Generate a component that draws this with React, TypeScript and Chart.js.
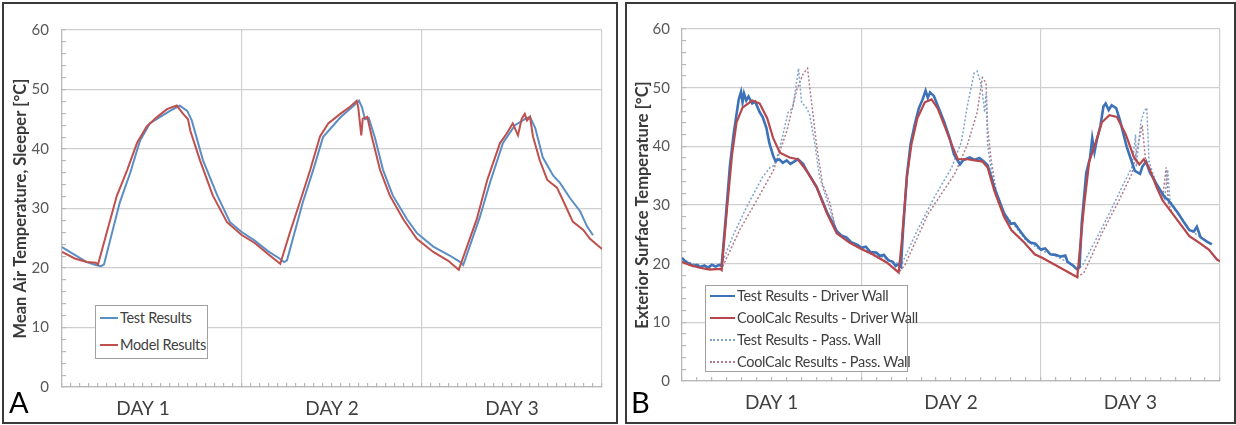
import React, { useEffect, useRef } from "react";
import { Chart, registerables } from "chart.js";

Chart.register(...registerables);

const FONT = "Lato, 'Open Sans', sans-serif";

// ---------- Panel A : hours since start, temperature [°C] ----------
const testResultsA: [number, number][] = [
  [0, 23.5], [1.7, 22.2], [3.3, 21.0], [4.5, 20.5], [5.2, 20.3], [5.6, 20.6], [7.7, 31.0], [9.1, 36.0],
  [10.4, 41.4], [11.7, 44.3], [13.1, 45.4], [14.4, 46.4], [15.7, 47.3], [16.7, 46.4], [17.3, 44.8],
  [18.8, 38.1], [20.7, 32.2], [22.4, 27.7], [24, 26.0], [25.7, 24.6], [27.5, 22.8], [29.0, 21.6],
  [29.6, 21.0], [30.0, 21.3], [32.1, 31.0], [33.5, 36.5], [34.8, 42.0], [37.1, 45.3], [39.1, 47.5],
  [39.6, 48.1], [40.0, 47.0], [40.4, 45.0], [40.9, 45.2], [41.7, 42.0], [42.8, 36.5], [44.1, 32.2],
  [46.0, 28.2], [47.3, 25.9], [49.5, 23.6], [51.7, 22.1], [53.1, 21.0], [53.5, 20.5], [55.7, 28.5],
  [57.1, 34.5], [58.8, 41.0], [60.4, 44.0], [61.7, 45.0], [62.4, 45.4], [63.1, 43.5], [64.1, 38.6],
  [65.5, 35.5], [66.4, 34.3], [67.7, 31.8], [69.1, 29.5], [70.0, 27.0], [70.8, 25.5],
];
const modelResultsA: [number, number][] = [
  [0, 22.7], [1.7, 21.6], [3.3, 21.0], [4.5, 20.9], [4.8, 20.6], [7.3, 32.1], [8.7, 36.5], [10.0, 41.0],
  [11.3, 43.8], [12.7, 45.4], [14.0, 46.7], [15.3, 47.3], [16.1, 46.0], [16.8, 45.0], [17.1, 43.1],
  [18.4, 38.1], [20.1, 32.2], [22.0, 27.7], [24.0, 25.5], [25.7, 24.2], [27.5, 22.3], [29.1, 20.7],
  [30.4, 26.0], [31.7, 31.0], [33.1, 36.5], [34.4, 42.1], [35.5, 44.3], [37.1, 45.9], [38.4, 47.1],
  [39.3, 48.1], [39.5, 47.0], [39.9, 42.3], [40.1, 45.1], [40.7, 45.4], [41.3, 42.1], [42.4, 36.5],
  [43.7, 32.2], [45.5, 28.2], [47.3, 24.9], [49.5, 22.7], [51.5, 21.2], [52.9, 19.7], [55.3, 28.2],
  [56.7, 34.8], [58.4, 41.0], [59.3, 42.6], [60.1, 44.3], [60.8, 42.3], [61.3, 45.1], [61.7, 45.9],
  [62.0, 44.8], [62.4, 45.4], [62.8, 42.1], [63.7, 38.1], [64.7, 34.8], [66.0, 33.5], [67.3, 30.0],
  [68.1, 27.8], [69.5, 26.4], [70.4, 24.9], [72, 23.2],
];

// ---------- Panel B ----------
const testDriverB: [number, number][] = [
  [0, 21.0], [0.5, 20.3], [1, 20.0], [1.5, 19.6], [2, 19.8], [2.5, 19.4], [3, 19.7], [3.5, 19.3], [4, 19.8],
  [4.5, 19.5], [5, 19.8], [5.3, 19.6], [5.8, 27.0], [6.4, 36.5], [6.9, 42.0], [7.3, 45.5], [7.6, 48.0],
  [7.9, 49.3], [8.1, 47.5], [8.3, 49.0], [8.6, 47.8], [8.9, 48.5], [9.4, 47.3], [9.8, 47.6], [10.4, 45.8],
  [10.8, 45.0], [11.3, 43.1], [11.7, 40.5], [12.2, 38.4], [12.5, 37.5], [13, 37.8], [13.5, 37.2], [14, 37.6],
  [14.5, 37.0], [15, 37.4], [15.5, 37.8], [16.2, 37.0], [16.7, 35.8], [18, 33.1], [19.4, 28.8], [20.7, 25.6],
  [21.3, 24.8], [22, 24.5], [22.7, 23.6], [23.5, 23.2], [24, 22.7], [24.6, 22.9], [25.2, 22.0], [26, 21.9],
  [26.5, 21.3], [27, 21.5], [27.6, 20.6], [28.2, 20.3], [28.6, 19.6], [29, 19.9], [29.3, 19.5], [29.6, 26.0],
  [30.1, 35.0], [30.6, 40.5], [31.2, 44.0], [31.7, 46.5], [32.2, 48.0], [32.6, 49.5], [32.9, 48.3],
  [33.2, 49.2], [33.7, 48.6], [34.2, 47.0], [35.1, 44.1], [35.8, 41.5], [36.4, 38.6], [37.2, 36.9],
  [37.6, 37.6], [38.5, 38.1], [39.2, 37.7], [39.8, 38.0], [40.4, 37.4], [40.9, 36.8], [41.8, 33.0],
  [43.1, 28.6], [44, 26.8], [44.5, 26.9], [45, 26.0], [46, 24.3], [46.6, 23.6], [47.3, 23.4], [48, 22.4],
  [48.6, 22.6], [49.3, 21.6], [50, 21.5], [50.7, 21.2], [51.3, 21.4], [51.6, 20.3], [52.2, 19.8],
  [52.9, 19.0], [53.2, 19.4], [53.5, 27.0], [54.1, 35.5], [54.6, 38.0], [54.9, 41.4], [55.2, 39.0],
  [55.5, 41.0], [56, 43.5], [56.4, 46.8], [56.7, 47.3], [57.1, 46.2], [57.5, 47.0], [58.1, 46.5],
  [58.6, 44.5], [59, 42.5], [59.5, 40.0], [60, 38.1], [60.6, 35.8], [61.3, 35.3], [61.6, 36.5],
  [62.1, 37.4], [62.6, 35.6], [63.5, 33.6], [64.5, 31.5], [65.1, 30.8], [66.4, 28.6], [67.2, 27.0],
  [67.9, 25.7], [68.5, 25.5], [68.9, 26.3], [69.4, 24.5], [70.2, 23.8], [70.9, 23.3],
];
const coolCalcDriverB: [number, number][] = [
  [0, 20.3], [1, 19.8], [2.4, 19.3], [3.7, 19.0], [5.1, 19.1], [5.3, 18.9], [6.0, 29.1], [6.7, 38.6],
  [7.3, 44.1], [8.1, 46.6], [9.4, 47.8], [10.4, 47.3], [11.4, 44.8], [12.2, 41.4], [13.1, 38.9],
  [14.4, 38.1], [15.5, 37.8], [16.7, 35.8], [18.0, 33.1], [19.4, 28.6], [20.7, 25.2], [22.4, 23.6],
  [24.0, 22.5], [25.5, 21.6], [27.4, 20.2], [29.0, 18.5], [29.4, 23.6], [30.1, 34.8], [30.7, 40.3],
  [31.5, 44.8], [32.5, 47.5], [33.4, 48.0], [34.2, 46.5], [35.1, 43.6], [36.1, 40.3], [36.9, 37.8],
  [38.2, 37.8], [40.2, 37.4], [40.9, 36.4], [41.8, 32.4], [43.1, 28.0], [44.1, 25.7], [45.8, 23.6],
  [47.2, 21.6], [48.2, 21.0], [50.5, 19.4], [52.9, 17.7], [53.8, 29.8], [54.5, 37.4], [55.4, 40.8],
  [56.2, 44.1], [57.2, 45.3], [58.2, 45.0], [59.4, 42.0], [60.5, 38.1], [61.2, 36.9], [61.8, 37.8],
  [62.5, 36.4], [63.5, 33.1], [64.3, 30.8], [65.6, 28.6], [66.9, 26.4], [67.9, 24.7], [69.2, 23.6],
  [70.5, 22.4], [71.6, 20.7], [72, 20.4],
];
const testPassB: [number, number][] = [
  [0, 20.8], [1, 20.2], [2, 19.8], [3, 19.6], [4, 19.7], [5.3, 19.9], [6.8, 24.7], [8.7, 29.8], [10.8, 34.8],
  [11.8, 36.4], [12.4, 36.8], [13.1, 39.8], [14.2, 45.8], [14.8, 46.5], [15.4, 51.5], [15.6, 53.3],
  [16.0, 47.5], [16.7, 46.5], [17.1, 45.3], [17.8, 40.3], [18.4, 34.8], [19.4, 30.8], [20.7, 25.6],
  [22.4, 23.8], [24, 22.6], [26, 21.6], [28, 20.4], [29.4, 19.8], [29.5, 20.2], [31.5, 25.7], [33.8, 31.4],
  [36.1, 36.4], [37.4, 40.8], [38.2, 47.0], [39.1, 52.5], [39.5, 52.8], [40.1, 50.3], [40.5, 45.8],
  [40.7, 49.0], [40.9, 40.3], [41.4, 35.8], [42, 32.0], [43.1, 28.5], [44.5, 26.5], [46, 24.0], [48, 22.3],
  [50, 21.3], [52, 20.0], [53.1, 19.2], [53.6, 19.7], [55.4, 24.1], [57.2, 28.6], [58.9, 33.1],
  [60.2, 36.4], [60.7, 42.0], [60.8, 36.5], [61.4, 44.1], [61.8, 45.8], [62.2, 46.6], [62.5, 37.4],
  [63.5, 33.6], [64.6, 31.0], [65.0, 36.0], [65.3, 30.8], [66.4, 28.6], [68, 25.7], [69.4, 24.5], [70.9, 23.3],
];
const coolCalcPassB: [number, number][] = [
  [0, 20.3], [2.4, 19.3], [5.3, 19.0], [5.7, 20.2], [7.7, 25.7], [10.0, 30.8], [12.2, 35.8], [14.0, 42.5],
  [15.4, 49.8], [16.2, 52.3], [16.8, 53.3], [17.5, 45.8], [18.0, 40.3], [18.8, 33.6], [19.8, 30.3],
  [20.7, 25.2], [22.4, 23.6], [24, 22.5], [27.4, 20.2], [29.0, 18.5], [29.8, 19.7], [32.9, 28.4],
  [36.5, 35.3], [38.2, 40.3], [39.5, 45.8], [40.2, 51.7], [40.7, 50.8], [40.9, 43.1], [41.4, 37.4],
  [42.1, 31.9], [43.1, 28.0], [44.1, 25.7], [45.8, 23.6], [47.2, 21.6], [50.5, 19.4], [52.9, 17.7],
  [53.8, 18.5], [56.2, 25.2], [58.5, 30.8], [60.2, 35.3], [61.6, 43.6], [62.0, 38.0], [62.5, 36.4],
  [63.5, 33.1], [64.3, 31.0], [64.8, 36.4], [65.1, 30.3], [65.6, 28.6], [66.9, 26.4], [67.9, 24.7],
  [69.2, 23.6], [70.5, 22.4], [71.6, 20.7], [72, 20.4],
];

// ---------- Axis definitions ----------
const dayLabels = ["DAY 1", "DAY 2", "DAY 3"];
const dayLabelHoursA = [10.8, 36, 60];
const dayLabelHoursB = [12, 36, 60];
const X_MAX = 72;
const HOURS_PER_DAY = 24;
const Y_MIN = 0;
const Y_MAX = 60;
const Y_MAJOR = 10;
const Y_MINOR = 2;

const GRID = "#cfcfcf";
const AXIS = "#b8b8b8";

type Series = {
  label: string;
  points: [number, number][];
  color: string;
  width: number;
  dash?: number[];
  order: number;
};

type PanelCfg = {
  series: Series[];
  yTitle: string;
  dayHours: number[];
  minorStepX: number;
  padTop: number;
  padRight: number;
  yAxisWidth: number;
  xAxisHeight: number;
  yTickPad: number;
  xTickPad: number;
  titlePad: number;
};

const near = (a: number, b: number) => Math.abs(a - b) < 1e-6;

function makeChart(canvas: HTMLCanvasElement, cfg: PanelCfg) {
  const minorX: number[] = [];
  for (let k = 0; k * cfg.minorStepX <= X_MAX + 1e-9; k++) minorX.push(+(k * cfg.minorStepX).toFixed(3));
  const xTicks = [...minorX];
  cfg.dayHours.forEach((h) => {
    if (!xTicks.some((v) => near(v, h))) xTicks.push(h);
  });
  xTicks.sort((a, b) => a - b);
  const yTicks: number[] = [];
  for (let v = Y_MIN; v <= Y_MAX; v += Y_MINOR) yTicks.push(v);

  return new Chart(canvas, {
    type: "line",
    data: {
      datasets: cfg.series.map((s) => ({
        label: s.label,
        data: s.points.map(([x, y]) => ({ x, y })),
        borderColor: s.color,
        backgroundColor: s.color,
        borderWidth: s.width,
        borderDash: s.dash || [],
        pointRadius: 0,
        tension: 0,
        fill: false,
        order: s.order,
      })),
    },
    options: {
      responsive: false,
      animation: false,
      events: [],
      layout: { padding: { top: cfg.padTop, right: cfg.padRight, left: 0, bottom: 0 } },
      plugins: { legend: { display: false }, tooltip: { enabled: false } },
      scales: {
        x: {
          type: "linear",
          min: 0,
          max: X_MAX,
          afterBuildTicks: (s: any) => {
            s.ticks = xTicks.map((v) => ({ value: v }));
          },
          afterFit: (s: any) => {
            s.height = cfg.xAxisHeight;
          },
          ticks: {
            autoSkip: false,
            maxRotation: 0,
            minRotation: 0,
            padding: cfg.xTickPad,
            color: "#404040",
            font: { family: FONT, size: 19 },
            callback: (v: any) => {
              const i = cfg.dayHours.findIndex((h) => near(h, Number(v)));
              return i >= 0 ? dayLabels[i] : "";
            },
          },
          grid: {
            color: (c: any) => (c.tick && near(c.tick.value % HOURS_PER_DAY, 0) ? GRID : "rgba(0,0,0,0)"),
            tickColor: (c: any) =>
              c.tick && minorX.some((v) => near(v, c.tick.value)) ? AXIS : "rgba(0,0,0,0)",
            tickLength: -4,
            lineWidth: 1.2,
          },
          border: { color: AXIS, width: 1.2 },
        },
        y: {
          type: "linear",
          min: Y_MIN,
          max: Y_MAX,
          afterBuildTicks: (s: any) => {
            s.ticks = yTicks.map((v) => ({ value: v }));
          },
          afterFit: (s: any) => {
            s.width = cfg.yAxisWidth;
          },
          ticks: {
            autoSkip: false,
            padding: cfg.yTickPad,
            color: "#595959",
            font: { family: FONT, size: 15 },
            callback: (v: any) => (Number(v) % Y_MAJOR === 0 ? String(v) : ""),
          },
          grid: {
            color: (c: any) => (c.tick && c.tick.value % Y_MAJOR === 0 ? GRID : "rgba(0,0,0,0)"),
            tickColor: AXIS,
            tickLength: -4,
            lineWidth: 1.2,
          },
          border: { color: AXIS, width: 1.2 },
          title: {
            display: true,
            text: cfg.yTitle,
            color: "#3a3a3a",
            font: { family: FONT, size: 16.5, weight: "bold" },
            padding: { top: cfg.titlePad, bottom: 0 },
          },
        },
      },
    } as any,
  });
}

const seriesA: Series[] = [
  { label: "Test Results", points: testResultsA, color: "#5b8ec4", width: 2, order: 2 },
  { label: "Model Results", points: modelResultsA, color: "#c0504d", width: 2, order: 1 },
];
const seriesB: Series[] = [
  { label: "Test Results - Driver Wall", points: testDriverB, color: "#3d72b8", width: 2.6, order: 2 },
  { label: "CoolCalc Results - Driver Wall", points: coolCalcDriverB, color: "#b8474b", width: 2.2, order: 1 },
  { label: "Test Results - Pass. Wall", points: testPassB, color: "#7fa3cc", width: 1.5, dash: [2, 2], order: 3 },
  { label: "CoolCalc Results - Pass. Wall", points: coolCalcPassB, color: "#b07a88", width: 1.5, dash: [2, 2], order: 4 },
];

type LegendRow = { label: string; color: string; width: number; dotted?: boolean; y: number };

function HtmlLegend(props: {
  left: number;
  top: number;
  width: number;
  height: number;
  lineLeft: number;
  lineWidth: number;
  textLeft: number;
  fontSize: number;
  rows: LegendRow[];
}) {
  const { left, top, width, height, lineLeft, lineWidth, textLeft, fontSize, rows } = props;
  return (
    <>
      <div
        style={{
          position: "absolute",
          left,
          top,
          width,
          height,
          border: "1px solid #a0a0a0",
          background: "#fff",
          boxSizing: "border-box",
        }}
      />
      {rows.map((r) => (
        <React.Fragment key={r.label}>
          <div
            style={{
              position: "absolute",
              left: lineLeft,
              top: r.y - 1,
              width: lineWidth,
              height: 0,
              borderTop: `${r.dotted ? 2 : r.width}px ${r.dotted ? "dotted" : "solid"} ${r.color}`,
            }}
          />
          <div
            style={{
              position: "absolute",
              left: textLeft,
              top: r.y - 10,
              height: 20,
              lineHeight: "20px",
              fontFamily: FONT,
              fontSize,
              letterSpacing: "-0.3px",
              color: "#404040",
              whiteSpace: "nowrap",
            }}
          >
            {r.label}
          </div>
        </React.Fragment>
      ))}
    </>
  );
}

export default function App() {
  const refA = useRef<HTMLCanvasElement>(null);
  const refB = useRef<HTMLCanvasElement>(null);

  useEffect(() => {
    const a = makeChart(refA.current!, {
      series: seriesA,
      yTitle: "Mean Air Temperature, Sleeper [°C]",
      dayHours: dayLabelHoursA,
      minorStepX: 1.2,
      padTop: 21,
      padRight: 14,
      yAxisWidth: 58,
      xAxisHeight: 35,
      yTickPad: 17,
      xTickPad: 14,
      titlePad: 7,
    });
    const b = makeChart(refB.current!, {
      series: seriesB,
      yTitle: "Exterior Surface Temperature [°C]",
      dayHours: dayLabelHoursB,
      minorStepX: 2,
      padTop: 18,
      padRight: 13,
      yAxisWidth: 55,
      xAxisHeight: 41,
      yTickPad: 16,
      xTickPad: 14,
      titlePad: 6,
    });
    return () => {
      a.destroy();
      b.destroy();
    };
  }, []);

  const panelBox: React.CSSProperties = {
    position: "absolute",
    border: "2px solid #3a3a3a",
    boxSizing: "border-box",
    background: "#fff",
  };

  return (
    <div style={{ position: "absolute", left: 0, top: 0, width: 1236, height: 425, background: "#fff", overflow: "hidden" }}>
      <div style={{ ...panelBox, left: 2, top: 2, width: 616, height: 422 }} />
      <div style={{ ...panelBox, left: 625, top: 2, width: 611, height: 422 }} />
      <canvas ref={refA} width={612} height={418} style={{ position: "absolute", left: 4, top: 4 }} />
      <canvas ref={refB} width={607} height={418} style={{ position: "absolute", left: 627, top: 4 }} />
      <HtmlLegend
        left={95}
        top={305}
        width={113}
        height={54}
        lineLeft={100}
        lineWidth={18}
        textLeft={120}
        fontSize={14.5}
        rows={[
          { label: seriesA[0].label, color: seriesA[0].color, width: 2, y: 318 },
          { label: seriesA[1].label, color: seriesA[1].color, width: 2, y: 345 },
        ]}
      />
      <HtmlLegend
        left={705}
        top={285}
        width={203}
        height={87}
        lineLeft={710}
        lineWidth={25}
        textLeft={737}
        fontSize={14.5}
        rows={seriesB.map((s, i) => ({
          label: s.label,
          color: s.color,
          width: 2,
          dotted: !!s.dash,
          y: [296, 318, 340, 362][i],
        }))}
      />
      <div style={{ position: "absolute", left: 9, top: 385, fontFamily: FONT, fontSize: 29, lineHeight: "34px", color: "#000" }}>A</div>
      <div style={{ position: "absolute", left: 631, top: 385, fontFamily: FONT, fontSize: 29, lineHeight: "34px", color: "#000" }}>B</div>
    </div>
  );
}
